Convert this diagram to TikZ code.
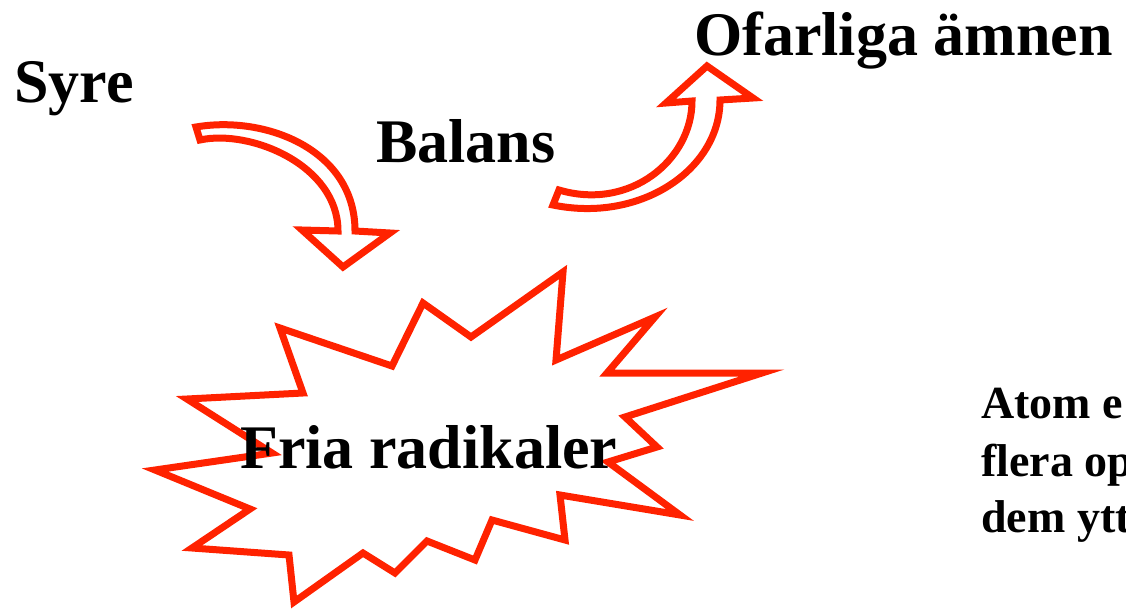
\documentclass[tikz,border=0pt]{standalone}
\usepackage{fontspec}
\setmainfont{Liberation Serif}
\definecolor{burstred}{RGB}{255,34,0}
\tikzset{
  blockarrow/.style={draw=burstred, fill=white, line width=7pt, line join=miter, miter limit=20},
  burst/.style={draw=burstred, fill=white, line width=7pt, line join=miter, miter limit=20},
  bigtext/.style={inner sep=0pt, anchor=base west, font=\fontsize{62}{74}\selectfont\bfseries},
  smalltext/.style={inner sep=0pt, anchor=base west, font=\fontsize{46}{57}\selectfont\bfseries}
}
\begin{document}
\begin{tikzpicture}[x=1pt,y=-1pt]
\path[use as bounding box] (0,0) rectangle (1126,610);
\clip (0,0) rectangle (1126,610);
% curved arrow Syre -> Fria radikaler
\path[blockarrow] (196,127) .. controls (266,115) and (355,150) .. (355,231)
  -- (390,233) -- (343,267) -- (302,230) -- (338,231)
  .. controls (338,165) and (250,129) .. (200,140) -- cycle;
% curved arrow -> Ofarliga amnen
\path[blockarrow] (553,205) .. controls (640,223) and (720,170) .. (720,100)
  -- (753,98) -- (707,66) -- (666,103) -- (692,101)
  .. controls (692,160) and (630,211) .. (559,190) -- cycle;
% starburst
\path[burst] (280,328) -- (392,366) -- (423,303) -- (471,337) -- (563,272)
  -- (556,360) -- (655,317) -- (607,373) -- (762,373) -- (625,417)
  -- (657,447) -- (608,462) -- (680,515) -- (560,495) -- (565,540)
  -- (492,520) -- (475,560) -- (427,541) -- (395,573) -- (363,553)
  -- (294,602) -- (289,555) -- (192,548) -- (250,509) -- (155,470)
  -- (272,453) -- (187,399) -- (303,393) -- cycle;
% texts
\node[bigtext] (syre) at (14,102) {Syre};
\node[bigtext] (balans) at (376,162) {Balans};
\node[bigtext] (ofarliga) at (694,56) {Ofarliga ämnen};
\node[bigtext] (fria) at (240,468) {Fria radikaler};
\node[smalltext] (l1) at (981,418) {Atom e};
\node[smalltext] (l2) at (981,476) {flera op};
\node[smalltext] (l3) at (981,532) {dem ytt};
\end{tikzpicture}
\end{document}
